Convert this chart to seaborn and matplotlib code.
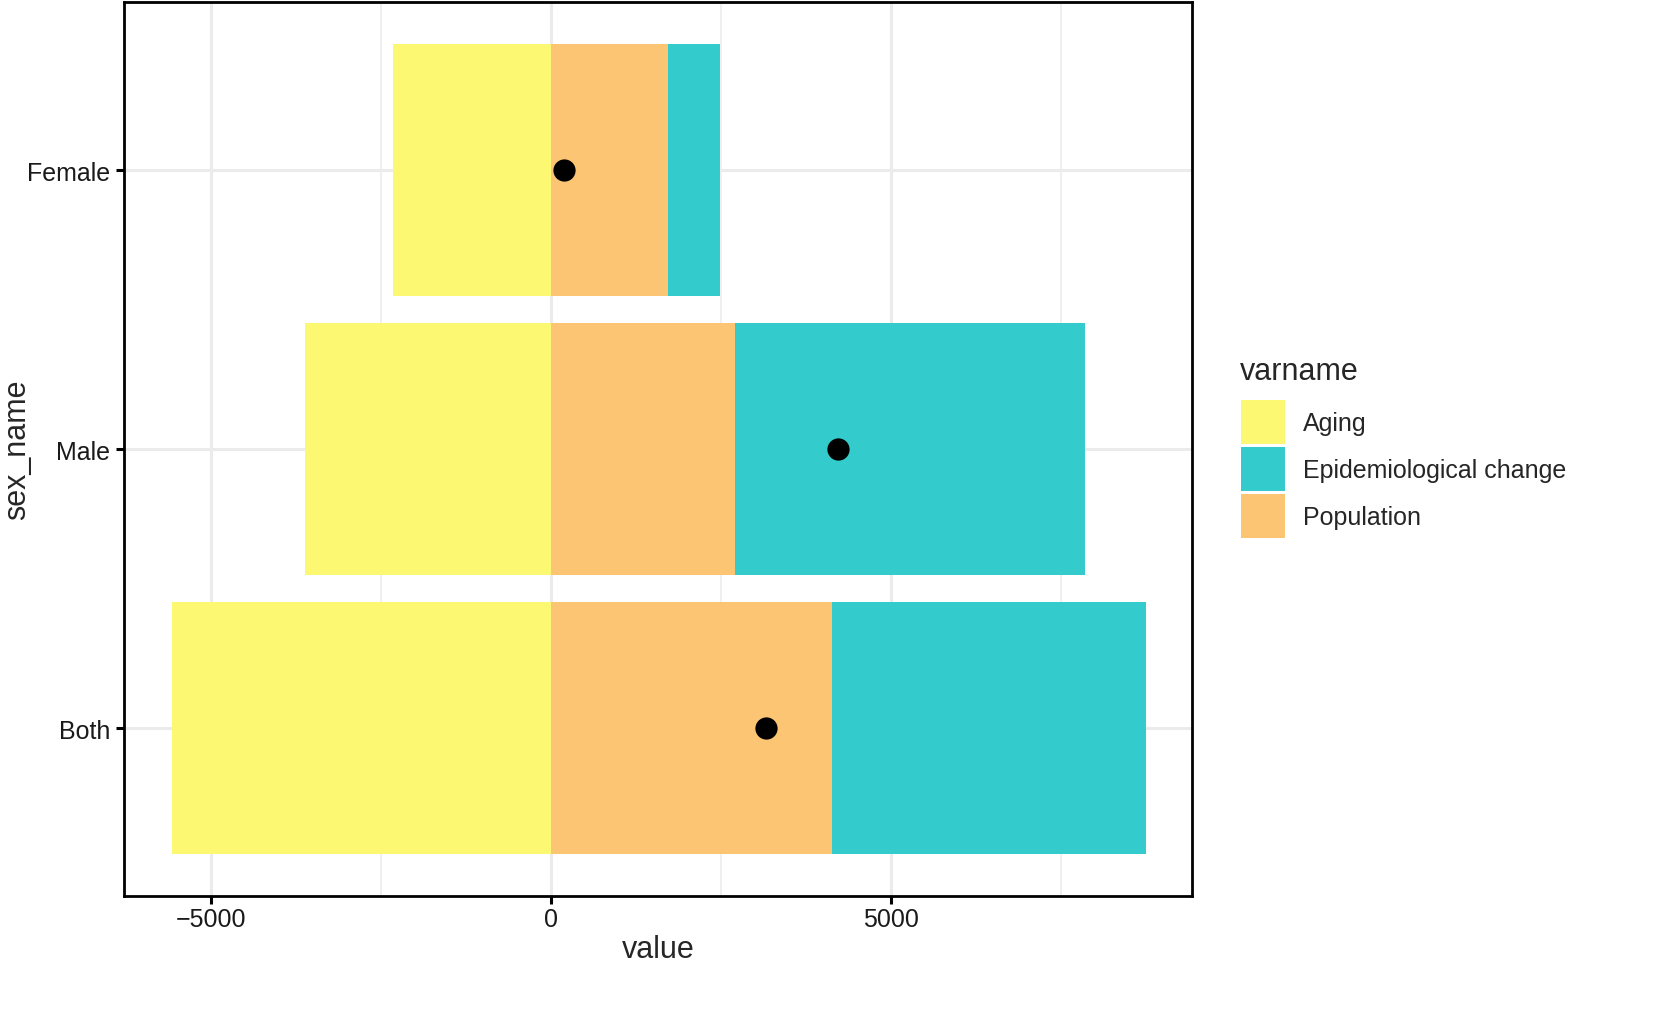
import matplotlib
matplotlib.use("Agg")
import matplotlib.pyplot as plt
from matplotlib.patches import Patch
from matplotlib.ticker import MultipleLocator
import seaborn as sns
import pandas as pd
import numpy as np

# ---- data ----
sex_names = ["Female", "Male", "Both"]
aging = [-2324, -3618, -5574]
population = [1721, 2706, 4132]
epidemiological = [765, 5147, 4618]
net_change = [191, 4221, 3162]

var_names = ["Aging", "Epidemiological change", "Population"]
colors = {"Aging": "#FDF871", "Epidemiological change": "#33CBCB", "Population": "#FCC574"}

df = pd.DataFrame({
    "sex_name": sex_names,
    "Aging": aging,
    "Population": population,
    "Epidemiological change": epidemiological,
    "net": net_change,
})
df["pos_total"] = df["Population"] + df["Epidemiological change"]

sns.set_theme(style="white")
plt.rcParams["font.family"] = ["Liberation Sans", "DejaVu Sans"]

fig = plt.figure(figsize=(16.54, 10.2), dpi=100)
ax = fig.add_axes([0.075, 0.1206, 0.6457, 0.8764])

kw = dict(orient="h", order=sex_names, width=0.9, linewidth=0, saturation=1, ax=ax, zorder=2)
sns.barplot(data=df, x="Aging", y="sex_name", color=colors["Aging"], **kw)
sns.barplot(data=df, x="pos_total", y="sex_name", color=colors["Epidemiological change"], **kw)
sns.barplot(data=df, x="Population", y="sex_name", color=colors["Population"], **kw)
sns.stripplot(data=df, x="net", y="sex_name", order=sex_names, orient="h", jitter=False,
              color="black", size=16, linewidth=0, ax=ax, zorder=4)

ax.set_xlim(-6279, 9426)
ax.set_ylim(2.602, -0.602)
ax.xaxis.set_major_locator(MultipleLocator(5000))
ax.xaxis.set_minor_locator(MultipleLocator(2500))
ax.set_xticks([-5000, 0, 5000])
ax.set_xticklabels(["\u22125000", "0", "5000"])

ax.grid(True, which="major", axis="both", color="#EBEBEB", linewidth=2.2, zorder=0)
ax.grid(True, which="minor", axis="x", color="#EBEBEB", linewidth=1.1, zorder=0)
ax.set_axisbelow(True)

for s in ax.spines.values():
    s.set_visible(True)
    s.set_color("black")
    s.set_linewidth(2)

ax.tick_params(axis="both", which="major", length=6, width=2.2, color="black",
               labelsize=18, labelcolor="#1a1a1a", pad=4, bottom=True, left=True)
ax.tick_params(axis="x", which="major", pad=2)
ax.tick_params(axis="x", which="minor", length=0)

ax.set_xlabel("value", fontsize=22, labelpad=2)
ax.set_ylabel("sex_name", fontsize=22)
ax.yaxis.set_label_coords(-0.086, 0.5)

fig.text(1240 / 1654, 1 - 372 / 1020, "varname", fontsize=22, ha="left", va="center")
handles = [Patch(facecolor=colors[v], edgecolor="none", label=v) for v in var_names]
leg = fig.legend(handles=handles, loc="upper left",
                 bbox_to_anchor=(1241 / 1654, 1 - 401 / 1020), frameon=False,
                 fontsize=18, handlelength=1.76, handleheight=2.33,
                 labelspacing=0.12, handletextpad=0.72, borderaxespad=0, borderpad=0)

fig.savefig("out.png", dpi=100)
